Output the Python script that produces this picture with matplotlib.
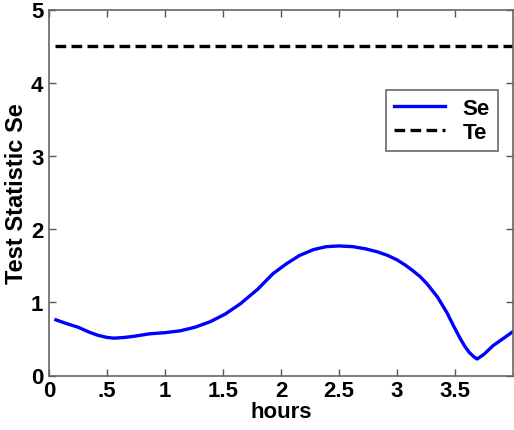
import matplotlib
matplotlib.use("Agg")
import matplotlib.pyplot as plt

# Se curve
hours = [0.06, 0.15, 0.25, 0.35, 0.42, 0.5, 0.56, 0.65, 0.73, 0.87, 1.0,
         1.13, 1.26, 1.39, 1.52, 1.65, 1.8, 1.93, 2.05, 2.16, 2.28, 2.39,
         2.5, 2.62, 2.73, 2.83, 2.92, 3.0, 3.07, 3.13, 3.2, 3.26, 3.35,
         3.43, 3.49, 3.54, 3.58, 3.62, 3.66, 3.69, 3.75, 3.83, 3.92, 4.0]
se = [0.76, 0.71, 0.66, 0.59, 0.55, 0.52, 0.51, 0.52, 0.535, 0.57, 0.585,
      0.61, 0.66, 0.735, 0.84, 0.98, 1.18, 1.39, 1.53, 1.64, 1.72, 1.76,
      1.77, 1.76, 1.73, 1.69, 1.64, 1.58, 1.51, 1.44, 1.35, 1.25, 1.07,
      0.86, 0.67, 0.52, 0.41, 0.32, 0.26, 0.225, 0.29, 0.41, 0.51, 0.6]

te_hours = [0.05, 4.0]
te = [4.5, 4.5]

xticks = [0, 0.5, 1, 1.5, 2, 2.5, 3, 3.5]
xticklabels = ["0", ".5", "1", "1.5", "2", "2.5", "3", "3.5"]
yticks = [0, 1, 2, 3, 4, 5]

plt.rcParams["font.family"] = ["Liberation Sans", "DejaVu Sans"]
plt.rcParams["font.weight"] = "bold"

fig = plt.figure(figsize=(5.14, 4.31), dpi=100)
ax = fig.add_axes([49 / 514, 1 - 376.5 / 431, 464 / 514, 366 / 431])

ax.plot(hours, se, color="#0000ff", linewidth=2.4, label="Se")
ax.plot(te_hours, te, color="black", linewidth=2.4, linestyle=(0, (3.2, 1.6)),
        label="Te")

ax.set_xlim(0, 4)
ax.set_ylim(0, 5)
ax.set_xticks(xticks)
ax.set_xticklabels(xticklabels)
ax.set_yticks(yticks)
ax.tick_params(direction="in", top=True, right=True, length=5, width=1,
               color="#555555", labelsize=16)
ax.tick_params(axis="x", pad=3)
ax.tick_params(axis="y", pad=4)
for sp in ax.spines.values():
    sp.set_color("#666666")
    sp.set_linewidth(1.2)

ax.set_xlabel("hours", fontsize=16, fontweight="bold", labelpad=0)
ax.set_ylabel("Test Statistic Se", fontsize=17, fontweight="bold", labelpad=2)

leg = ax.legend(loc="upper right", bbox_to_anchor=(0.967, 0.78), fontsize=16,
                frameon=True, fancybox=False, handlelength=2.3,
                borderpad=0.35, labelspacing=0.15, borderaxespad=0)
leg.get_frame().set_edgecolor("#444444")
leg.get_frame().set_linewidth(1.2)

fig.savefig("out.png", dpi=100)
